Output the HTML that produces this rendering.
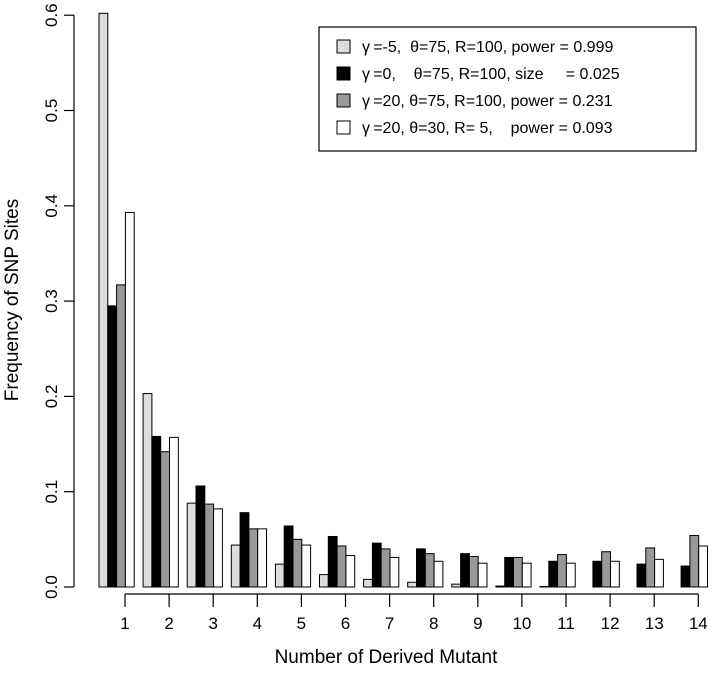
<!DOCTYPE html>
<html><head><meta charset="utf-8"><style>
body{margin:0;background:#fff}
svg text{font-family:"Liberation Sans",sans-serif;fill:#000}
</style></head><body>
<svg id="chart" width="720" height="668" viewBox="0 0 720 668">
<g id="bars"></g>
<g id="axes"></g>
<text x="18" y="300" font-size="19" text-anchor="middle" transform="rotate(-90 18 300)">Frequency of SNP Sites</text>
<text x="386" y="663" font-size="19" text-anchor="middle">Number of Derived Mutant</text>
<g>
<rect x="319" y="27" width="377" height="124" fill="#fff" stroke="#000" stroke-width="1.2"/>
<g id="legend-entries"></g>
</g>
</svg>
<script>
const categories=["1","2","3","4","5","6","7","8","9","10","11","12","13","14"];
const seriesA=[0.602,0.203,0.088,0.044,0.024,0.013,0.008,0.005,0.003,0.001,0.0005,0,0,0];
const seriesB=[0.295,0.158,0.106,0.078,0.064,0.053,0.046,0.040,0.035,0.031,0.027,0.027,0.024,0.022];
const seriesC=[0.317,0.142,0.087,0.061,0.050,0.043,0.040,0.035,0.032,0.031,0.034,0.037,0.041,0.054];
const seriesD=[0.393,0.157,0.082,0.061,0.044,0.033,0.031,0.027,0.025,0.025,0.025,0.027,0.029,0.043];
const yTicks=[0,0.1,0.2,0.3,0.4,0.5,0.6];
const yTickLabels=["0.0","0.1","0.2","0.3","0.4","0.5","0.6"];
const seriesLabels=["γ\u2009=-5,  θ=75, R=100, power = 0.999","γ\u2009=0,    θ=75, R=100, size     = 0.025","γ\u2009=20, θ=75, R=100, power = 0.231","γ\u2009=20, θ=30, R= 5,    power = 0.093"];
const fills=["#dcdcdc","#000","#999","#fff"];
const NS="http://www.w3.org/2000/svg";
const y=v=>587-v*953;
const groupX=i=>99+i*44.1;
const tickX=i=>125+i*44.1;
const bw=8.8;
const bars=document.getElementById('bars');
const series=[seriesA,seriesB,seriesC,seriesD];
series.forEach((s,si)=>{s.forEach((v,i)=>{
 const r=document.createElementNS(NS,'rect');
 r.setAttribute('x',groupX(i)+si*bw);r.setAttribute('y',y(v));
 r.setAttribute('width',bw);r.setAttribute('height',Math.max(0,y(0)-y(v)));
 r.setAttribute('fill',fills[si]);r.setAttribute('stroke','#000');r.setAttribute('stroke-width','1');
 
 
 bars.appendChild(r);});});
const axes=document.getElementById('axes');
function ln(x1,y1,x2,y2,name){const l=document.createElementNS(NS,'line');l.setAttribute('x1',x1);l.setAttribute('y1',y1);l.setAttribute('x2',x2);l.setAttribute('y2',y2);l.setAttribute('stroke','#000');l.setAttribute('stroke-width','1.2');


axes.appendChild(l);}
function tx(x,yy,s,rot,name){const t=document.createElementNS(NS,'text');t.setAttribute('x',x);t.setAttribute('y',yy);t.setAttribute('font-size','17');t.setAttribute('text-anchor','middle');if(rot)t.setAttribute('transform','rotate(-90 '+x+' '+yy+')');t.textContent=s;


axes.appendChild(t);}
ln(74,y(yTicks[0]),74,y(yTicks[yTicks.length-1]),'y-axis-line');
yTicks.forEach((v,i)=>{ln(64,y(v),74,y(v),'y-tick');tx(57,y(v),yTickLabels[i],true,'y-tick-label');});
ln(tickX(0),594,tickX(categories.length-1),594,'x-axis-line');
categories.forEach((c,i)=>{ln(tickX(i),594,tickX(i),607,'x-tick');tx(tickX(i),629,c,false,'x-tick-label');});
const leg=document.getElementById('legend-entries');
seriesLabels.forEach((s,i)=>{const yy=46+i*27;
 const r=document.createElementNS(NS,'rect');r.setAttribute('x',337);r.setAttribute('y',yy-6);r.setAttribute('width',13);r.setAttribute('height',13);r.setAttribute('fill',fills[i]);r.setAttribute('stroke','#000');
 
 
 leg.appendChild(r);
 const t=document.createElementNS(NS,'text');t.setAttribute('x',362);t.setAttribute('y',yy+6);t.setAttribute('font-size','16');t.setAttribute('xml:space','preserve');t.style.whiteSpace='pre';t.textContent=s;
 
 
 leg.appendChild(t);});
</script>
</body></html>
